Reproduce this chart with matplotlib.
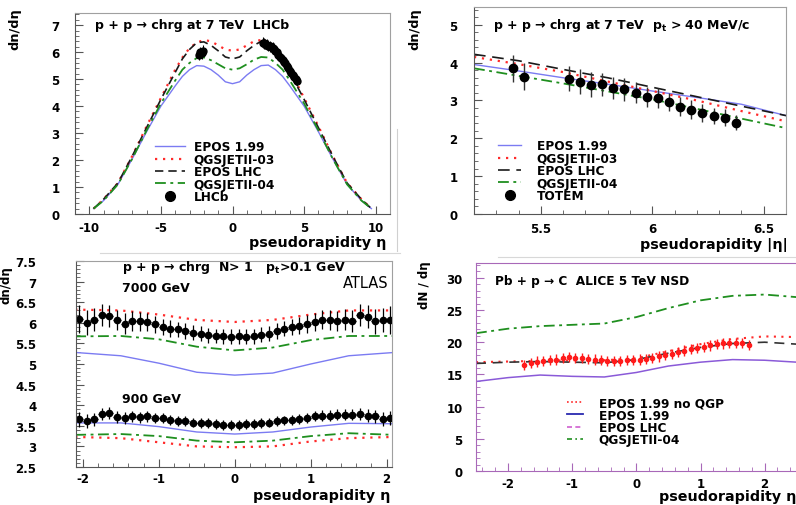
import numpy as np
import matplotlib
matplotlib.use("Agg")
import matplotlib.pyplot as plt
from matplotlib.lines import Line2D
from matplotlib.ticker import MultipleLocator

plt.rcParams['font.family'] = ['DejaVu Sans']
plt.rcParams['font.weight'] = 'bold'
plt.rcParams['mathtext.fontset'] = 'dejavusans'
plt.rcParams['mathtext.default'] = 'bf'
plt.rcParams['axes.unicode_minus'] = False

# ---------------- data: top left (LHCb, 7 TeV) ----------------
eta_tl = [-9.7, -9, -8, -7, -6, -5, -4, -3.5, -3, -2.5, -2, -1.5, -1, -0.5, 0,
          0.5, 1, 1.5, 2, 2.5, 3, 3.5, 4, 5, 6, 7, 8, 9, 9.7]
epos199_tl = [0.2, 0.5, 1.1, 2.05, 3.05, 4.0, 4.75, 5.1, 5.35, 5.5, 5.48, 5.35, 5.15, 4.9, 4.83,
              4.9, 5.15, 5.35, 5.5, 5.52, 5.35, 5.1, 4.75, 4.0, 3.05, 2.05, 1.1, 0.5, 0.2]
qgs03_tl = [0.2, 0.55, 1.15, 2.15, 3.25, 4.3, 5.35, 5.8, 6.15, 6.35, 6.45, 6.4, 6.25, 6.1, 6.05,
            6.1, 6.25, 6.4, 6.45, 6.35, 6.15, 5.8, 5.35, 4.3, 3.25, 2.15, 1.15, 0.55, 0.2]
eposlhc_tl = [0.2, 0.55, 1.15, 2.15, 3.2, 4.25, 5.25, 5.75, 6.1, 6.35, 6.38, 6.25, 6.05, 5.82, 5.75,
              5.82, 6.05, 6.25, 6.4, 6.38, 6.1, 5.75, 5.25, 4.25, 3.2, 2.15, 1.15, 0.55, 0.2]
qgs04_tl = [0.2, 0.5, 1.1, 2.05, 3.1, 4.1, 4.95, 5.35, 5.6, 5.78, 5.8, 5.7, 5.55, 5.4, 5.35,
            5.4, 5.55, 5.72, 5.82, 5.8, 5.6, 5.35, 4.95, 4.1, 3.1, 2.05, 1.1, 0.5, 0.2]
lhcb_eta = [-2.35, -2.25, -2.15, -2.05,
            2.1, 2.2, 2.3, 2.4, 2.5, 2.6, 2.7, 2.8, 2.9, 3.0, 3.1, 3.2, 3.3,
            3.4, 3.5, 3.6, 3.7, 3.8, 3.9, 4.0, 4.1, 4.2, 4.3, 4.4, 4.5]
lhcb_val = [5.9, 6.0, 5.95, 6.05,
            6.35, 6.33, 6.3, 6.27, 6.24, 6.22, 6.19, 6.16, 6.12, 6.06, 5.99, 5.91, 5.83,
            5.77, 5.71, 5.65, 5.58, 5.5, 5.41, 5.31, 5.22, 5.14, 5.06, 4.99, 4.93]
lhcb_err = [0.2, 0.2, 0.2, 0.2,
            0.2, 0.2, 0.2, 0.2, 0.2, 0.2, 0.2, 0.2, 0.2, 0.2, 0.2, 0.2, 0.2,
            0.2, 0.2, 0.2, 0.2, 0.2, 0.2, 0.2, 0.2, 0.2, 0.2, 0.2, 0.2]

# ---------------- data: top right (TOTEM) ----------------
eta_tr = [5.2, 5.4, 5.6, 5.8, 6.0, 6.2, 6.4, 6.6]
epos199_tr = [3.95, 3.78, 3.6, 3.43, 3.25, 3.08, 2.9, 2.6]
qgs03_tr = [4.15, 3.96, 3.75, 3.5, 3.25, 3.0, 2.72, 2.45]
eposlhc_tr = [4.22, 4.05, 3.82, 3.6, 3.35, 3.1, 2.85, 2.6]
qgs04_tr = [3.85, 3.65, 3.45, 3.24, 3.03, 2.78, 2.52, 2.27]
totem_eta = [5.375, 5.425, 5.625, 5.675, 5.725, 5.775, 5.825, 5.875, 5.925,
             5.975, 6.025, 6.075, 6.125, 6.175, 6.225, 6.275, 6.325, 6.375]
totem_val = [3.85, 3.63, 3.57, 3.5, 3.42, 3.43, 3.33, 3.29, 3.2,
             3.09, 3.07, 2.96, 2.83, 2.76, 2.67, 2.59, 2.55, 2.41]
totem_err = [0.36, 0.36, 0.33, 0.32, 0.32, 0.3, 0.3, 0.3, 0.28,
             0.27, 0.26, 0.25, 0.25, 0.24, 0.23, 0.22, 0.22, 0.2]

# ---------------- data: bottom left (ATLAS) ----------------
eta_bl = [-2.1, -1.5, -1.0, -0.5, 0.0, 0.5, 1.0, 1.5, 2.1]
qgs03_7000 = [6.32, 6.3, 6.2, 6.07, 6.02, 6.07, 6.2, 6.3, 6.3]
qgs04_7000 = [5.67, 5.68, 5.6, 5.42, 5.33, 5.4, 5.58, 5.68, 5.68]
epos199_7000 = [5.28, 5.2, 5.02, 4.8, 4.73, 4.78, 5.0, 5.2, 5.28]
epos199_900 = [3.57, 3.57, 3.48, 3.35, 3.3, 3.35, 3.47, 3.56, 3.55]
qgs04_900 = [3.28, 3.3, 3.25, 3.14, 3.1, 3.14, 3.25, 3.32, 3.28]
qgs03_900 = [3.23, 3.2, 3.1, 3.0, 2.98, 3.0, 3.12, 3.2, 3.23]
atlas_eta = [-2.05, -1.95, -1.85, -1.75, -1.65, -1.55, -1.45, -1.35, -1.25, -1.15,
             -1.05, -0.95, -0.85, -0.75, -0.65, -0.55, -0.45, -0.35, -0.25, -0.15,
             -0.05, 0.05, 0.15, 0.25, 0.35, 0.45, 0.55, 0.65, 0.75, 0.85,
             0.95, 1.05, 1.15, 1.25, 1.35, 1.45, 1.55, 1.65, 1.75, 1.85, 1.95, 2.05]
atlas_7000 = [6.09, 6.0, 6.07, 6.19, 6.17, 6.07, 5.98, 6.04, 6.04, 6.01,
              5.96, 5.9, 5.86, 5.84, 5.8, 5.76, 5.74, 5.7, 5.68, 5.67,
              5.66, 5.67, 5.66, 5.67, 5.71, 5.74, 5.8, 5.86, 5.9, 5.93,
              5.97, 6.01, 6.07, 6.07, 6.04, 6.08, 6.04, 6.19, 6.15, 6.04, 6.07, 6.07]
atlas_7000_err = [0.33, 0.3, 0.28, 0.27, 0.26, 0.25, 0.25, 0.24, 0.23, 0.22,
                  0.21, 0.2, 0.2, 0.19, 0.19, 0.18, 0.18, 0.18, 0.18, 0.18,
                  0.18, 0.18, 0.18, 0.18, 0.18, 0.18, 0.19, 0.19, 0.2, 0.2,
                  0.21, 0.22, 0.23, 0.24, 0.25, 0.25, 0.26, 0.27, 0.28, 0.3, 0.3, 0.33]
atlas_900 = [3.66, 3.62, 3.66, 3.79, 3.81, 3.71, 3.69, 3.73, 3.71, 3.73,
             3.7, 3.69, 3.65, 3.62, 3.61, 3.58, 3.57, 3.57, 3.55, 3.52,
             3.52, 3.52, 3.55, 3.55, 3.57, 3.58, 3.61, 3.63, 3.65, 3.67,
             3.69, 3.73, 3.75, 3.75, 3.77, 3.77, 3.77, 3.79, 3.75, 3.73, 3.67, 3.69]
atlas_900_err = [0.18, 0.17, 0.16, 0.15, 0.15, 0.14, 0.14, 0.13, 0.13, 0.13,
                 0.12, 0.12, 0.12, 0.12, 0.12, 0.12, 0.12, 0.12, 0.12, 0.12,
                 0.12, 0.12, 0.12, 0.12, 0.12, 0.12, 0.12, 0.12, 0.12, 0.12,
                 0.12, 0.12, 0.13, 0.13, 0.13, 0.14, 0.14, 0.15, 0.15, 0.16, 0.17, 0.18]

# ---------------- data: bottom right (ALICE p-Pb) ----------------
eta_br = [-2.5, -2.0, -1.5, -1.0, -0.5, 0.0, 0.5, 1.0, 1.5, 2.0, 2.5]
noqgp_br = [16.9, 17.0, 17.1, 17.2, 17.2, 17.5, 18.6, 19.7, 20.5, 20.9, 20.8]
epos199_br = [13.9, 14.5, 14.9, 14.7, 14.6, 15.3, 16.3, 16.9, 17.3, 17.2, 16.9]
eposlhc_br = [16.7, 16.9, 17.0, 16.9, 16.8, 17.3, 18.3, 19.2, 19.8, 20.0, 19.7]
qgs04_br = [21.4, 22.1, 22.5, 22.7, 22.9, 23.9, 25.3, 26.5, 27.2, 27.4, 27.0]
alice_eta = [-1.75, -1.65, -1.55, -1.45, -1.35, -1.25, -1.15, -1.05, -0.95, -0.85,
             -0.75, -0.65, -0.55, -0.45, -0.35, -0.25, -0.15, -0.05, 0.05, 0.15,
             0.25, 0.35, 0.45, 0.55, 0.65, 0.75, 0.85, 0.95, 1.05, 1.15,
             1.25, 1.35, 1.45, 1.55, 1.65, 1.75]
alice_val = [16.5, 16.8, 17.0, 17.1, 17.2, 17.3, 17.6, 17.7, 17.6, 17.5,
             17.4, 17.3, 17.2, 17.1, 17.1, 17.1, 17.2, 17.2, 17.3, 17.4,
             17.5, 17.8, 18.0, 18.2, 18.5, 18.7, 18.9, 19.1, 19.3, 19.5,
             19.7, 19.8, 19.9, 19.9, 19.9, 19.6]
alice_err = [0.8] * 36

# ---------------- styles ----------------
BLUE = '#7b7bf2'
RED = '#ff2a2a'
GREEN = '#1f8f1f'
BLACK = '#1a1a1a'
PURPLE = '#a868b8'
DOT = (0, (1.0, 2.6))
DASH = (0, (5, 3))
DASHDOT = (0, (6, 2.5, 1.6, 2.5))

W, H = 796, 506
fig = plt.figure(figsize=(W / 100, H / 100), dpi=100)


def px_axes(l, t, r, b):
    return fig.add_axes([l / W, 1 - b / H, (r - l) / W, (b - t) / H])


def ftxt(x, y, s, **kw):
    fig.text(x / W, 1 - y / H, s, **kw)


def style(ax, col='#555555', col2='#a0a0a0', ypad=11, xpad=4):
    for s in ['left', 'bottom']:
        ax.spines[s].set_color(col)
    for s in ['top', 'right']:
        ax.spines[s].set_color(col2)
    ax.tick_params(which='both', direction='in', top=False, right=False, color=col,
                   labelsize=8.5)
    ax.tick_params(which='major', length=6, width=0.8)
    ax.tick_params(which='minor', length=3, width=0.6)
    ax.tick_params(axis='y', pad=ypad)
    ax.tick_params(axis='x', pad=xpad)


def legend(ax, handles, labels, x, y, hl=2.5, ht=0.7):
    ax.legend(handles, labels, loc='upper left', bbox_to_anchor=(x, y), frameon=False,
              fontsize=8.7, handlelength=hl, handletextpad=ht, labelspacing=-0.05,
              borderpad=0, borderaxespad=0, numpoints=1)


# ---------------- top left ----------------
ax = px_axes(75, 14, 390, 215)
l1, = ax.plot(eta_tl, epos199_tl, color=BLUE, lw=1.0)
l2, = ax.plot(eta_tl, qgs03_tl, color=RED, lw=1.6, ls=DOT)
l3, = ax.plot(eta_tl, eposlhc_tl, color=BLACK, lw=1.2, ls=DASH)
l4, = ax.plot(eta_tl, qgs04_tl, color=GREEN, lw=1.3, ls=DASHDOT)
ax.errorbar(lhcb_eta, lhcb_val, yerr=lhcb_err, xerr=0.05, fmt='o', color='black',
            ms=5, elinewidth=0.8, capsize=0)
ax.set_xlim(-11, 11)
ax.set_ylim(0, 7.45)
ax.xaxis.set_major_locator(MultipleLocator(5))
ax.xaxis.set_minor_locator(MultipleLocator(1))
ax.yaxis.set_major_locator(MultipleLocator(1))
ax.yaxis.set_minor_locator(MultipleLocator(0.2))
style(ax, ypad=11, xpad=5)
dot = Line2D([], [], marker='o', color='black', ls='none', ms=7)
legend(ax, [l1, l2, l3, l4, dot], ['EPOS 1.99', 'QGSJETII-03', 'EPOS LHC', 'QGSJETII-04', 'LHCb'],
       0.254, 0.366)
ftxt(95, 25, 'p + p → chrg at 7 TeV  LHCb', fontsize=9, va='center')
ftxt(15, 8, 'dn/dη', fontsize=9.3, rotation=90, ha='center', va='top')
ftxt(386, 243, 'pseudorapidity η', fontsize=10.3, ha='right', va='center')

# ---------------- top right ----------------
ax = px_axes(474, 8, 786, 215)
l1, = ax.plot(eta_tr, epos199_tr, color=BLUE, lw=1.0)
l2, = ax.plot(eta_tr, qgs03_tr, color=RED, lw=1.6, ls=DOT)
l3, = ax.plot(eta_tr, eposlhc_tr, color=BLACK, lw=1.2, ls=(0, (7, 4)))
l4, = ax.plot(eta_tr, qgs04_tr, color=GREEN, lw=1.3, ls=DASHDOT)
ax.errorbar(totem_eta, totem_val, yerr=totem_err, fmt='o', color='black', ecolor='#333333',
            ms=6, elinewidth=1.0, capsize=0)
ax.set_xlim(5.2, 6.6)
ax.set_ylim(0, 5.47)
ax.xaxis.set_major_locator(MultipleLocator(0.5))
ax.xaxis.set_minor_locator(MultipleLocator(0.1))
ax.yaxis.set_major_locator(MultipleLocator(1))
ax.yaxis.set_minor_locator(MultipleLocator(0.2))
ax.set_xticks([5.5, 6.0, 6.5])
ax.set_xticklabels(['5.5', '6', '6.5'])
style(ax, ypad=12, xpad=6)
dot = Line2D([], [], marker='o', color='black', ls='none', ms=7)
legend(ax, [l1, l2, l3, l4, dot], ['EPOS 1.99', 'QGSJETII-03', 'EPOS LHC', 'QGSJETII-04', 'TOTEM'],
       0.077, 0.36, hl=1.9, ht=1.3)
ftxt(493, 25, 'p + p → chrg at 7 TeV  p$_{t}$ > 40 MeV/c', fontsize=9, va='center')
ftxt(415, 8, 'dn/dη', fontsize=9.3, rotation=90, ha='center', va='top')
ftxt(788, 245, 'pseudorapidity |η|', fontsize=10.3, ha='right', va='center')

# ---------------- bottom left ----------------
ax = px_axes(76, 262, 392, 468)
ax.plot(eta_bl, qgs03_7000, color=RED, lw=1.6, ls=DOT)
ax.plot(eta_bl, qgs04_7000, color=GREEN, lw=1.3, ls=DASHDOT)
ax.plot(eta_bl, epos199_7000, color=BLUE, lw=1.0)
ax.plot(eta_bl, epos199_900, color=BLUE, lw=1.0)
ax.plot(eta_bl, qgs04_900, color=GREEN, lw=1.3, ls=DASHDOT)
ax.plot(eta_bl, qgs03_900, color=RED, lw=1.6, ls=DOT)
ax.errorbar(atlas_eta, atlas_7000, yerr=atlas_7000_err, xerr=0.05, fmt='o', color='black',
            ms=4.5, elinewidth=0.9, capsize=0)
ax.errorbar(atlas_eta, atlas_900, yerr=atlas_900_err, xerr=0.05, fmt='o', color='black',
            ms=4.5, elinewidth=0.9, capsize=0)
ax.set_xlim(-2.09, 2.07)
ax.set_ylim(2.5, 7.5)
ax.xaxis.set_major_locator(MultipleLocator(1))
ax.xaxis.set_minor_locator(MultipleLocator(0.2))
ax.yaxis.set_major_locator(MultipleLocator(0.5))
ax.yaxis.set_minor_locator(MultipleLocator(0.1))
ax.yaxis.set_major_formatter(plt.FuncFormatter(lambda v, p: f'{v:g}'))
style(ax, ypad=28.5, xpad=3.5)
ftxt(122, 268, 'p + p → chrg  N> 1   p$_{t}$>0.1 GeV', fontsize=9, va='center')
ftxt(122, 288, '7000 GeV', fontsize=9, va='center')
ftxt(122, 400, '900 GeV', fontsize=9, va='center')
ftxt(389, 284, 'ATLAS', fontsize=10.5, fontweight='normal', ha='right', va='center')
ftxt(6, 266, 'dn/dη', fontsize=8.5, rotation=90, ha='center', va='top')
ftxt(390, 496, 'pseudorapidity η', fontsize=10.3, ha='right', va='center')

# ---------------- bottom right ----------------
ax = px_axes(476, 264, 798, 472)
ax.plot(eta_br, qgs04_br, color=GREEN, lw=1.3, ls=DASHDOT)
ax.plot(eta_br, noqgp_br, color=RED, lw=1.5, ls=DOT)
ax.plot(eta_br, eposlhc_br, color='#333333', lw=1.2, ls=(0, (6, 4)))
ax.plot(eta_br, epos199_br, color='#8a5ad8', lw=1.1)
ax.errorbar(alice_eta, alice_val, yerr=alice_err, fmt='o', color='#ff1a1a',
            ms=3, elinewidth=1.0, capsize=0)
ax.set_xlim(-2.5, 2.52)
ax.set_ylim(0, 32.3)
ax.xaxis.set_major_locator(MultipleLocator(1))
ax.xaxis.set_minor_locator(MultipleLocator(0.2))
ax.yaxis.set_major_locator(MultipleLocator(5))
ax.yaxis.set_minor_locator(MultipleLocator(1))
style(ax, col=PURPLE, col2=PURPLE, ypad=9.5, xpad=4)
h = [Line2D([], [], color=RED, lw=1.2, ls=(0, (1, 1.5))),
     Line2D([], [], color='#2a2ab0', lw=1.3),
     Line2D([], [], color='#d060d0', lw=1.2, ls=(0, (3, 2))),
     Line2D([], [], color=GREEN, lw=1.2, ls=(0, (3, 2, 1, 2)))]
legend(ax, h, ['EPOS 1.99 no QGP', 'EPOS 1.99', 'EPOS LHC', 'QGSJETII-04'],
       0.284, 0.36, hl=1.3, ht=1.3)
ftxt(495, 282, 'Pb + p → C  ALICE 5 TeV NSD', fontsize=8.7, va='center')
ftxt(425, 261, 'dN / dη', fontsize=8.5, rotation=90, ha='center', va='top')
ftxt(796, 497, 'pseudorapidity η', fontsize=10.3, ha='right', va='center')

# light separators left over from the panel montage
fig.add_artist(Line2D([397 / W, 397 / W], [1 - 130 / H, 1 - 252 / H], color='#d0d0d0', lw=0.8))
fig.add_artist(Line2D([100 / W, 400 / W], [1 - 254 / H, 1 - 254 / H], color='#d8d8d8', lw=0.8))
fig.add_artist(Line2D([498 / W, 796 / W], [1 - 258 / H, 1 - 258 / H], color='#d8d8d8', lw=0.8))

fig.savefig('out.png', dpi=100)
